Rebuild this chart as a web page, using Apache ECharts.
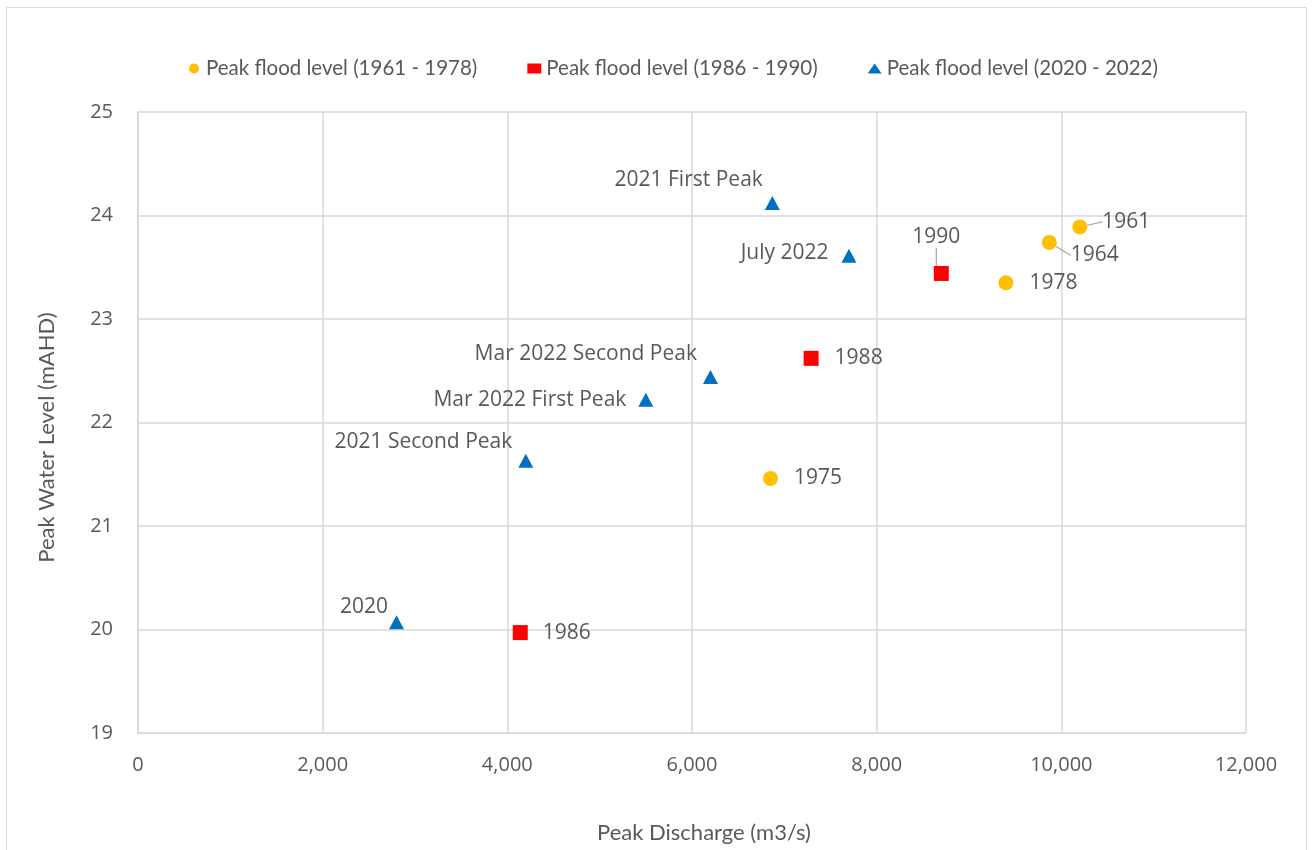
<!DOCTYPE html>
<html>
<head>
<meta charset="utf-8">
<script src="https://cdn.jsdelivr.net/npm/echarts@6/dist/echarts.min.js"></script>
<style>
  html, body { margin: 0; padding: 0; background: #fff; }
  #chart { width: 1312px; height: 850px; }
</style>
</head>
<body>
<div id="chart"></div>
<script>
// Peak flood events: discharge (m3/s) against peak water level (mAHD)
const histNames = ['1961', '1964', '1975', '1978'];
const histDischarge = [10200, 9870, 6850, 9400];
const histLevel = [23.89, 23.74, 21.46, 23.35];

const midNames = ['1986', '1988', '1990'];
const midDischarge = [4140, 7290, 8700];
const midLevel = [19.97, 22.62, 23.44];

const recentNames = ['2020', '2021 First Peak', '2021 Second Peak', 'Mar 2022 First Peak', 'Mar 2022 Second Peak', 'July 2022'];
const recentDischarge = [2800, 6870, 4200, 5500, 6200, 7700];
const recentLevel = [20.07, 24.12, 21.63, 22.22, 22.44, 23.61];

const seriesNames = ['Peak flood level (1961 - 1978)', 'Peak flood level (1986 - 1990)', 'Peak flood level (2020 - 2022)'];

// Label placement for each event: side, gap from marker, extra nudge, leader line
const labelStyle = {
  '1961': { position: 'right', distance: 5, shift: [10, -5], leader: true },
  '1964': { position: 'right', distance: 5, shift: [9, 13], leader: true },
  '1975': { position: 'right', distance: 16 },
  '1978': { position: 'right', distance: 16 },
  '1986': { position: 'right', distance: 15 },
  '1988': { position: 'right', distance: 16 },
  '1990': { position: 'top', distance: 5, shift: [-5, -13], leader: true },
  '2020': { position: 'left', distance: 1, shift: [0, -15] },
  '2021 First Peak': { position: 'left', distance: 2, shift: [0, -23] },
  '2021 Second Peak': { position: 'left', distance: 6, shift: [0, -19] },
  'Mar 2022 First Peak': { position: 'left', distance: 12 },
  'Mar 2022 Second Peak': { position: 'left', distance: 6, shift: [0, -23] },
  'July 2022': { position: 'left', distance: 13, shift: [0, -3] }
};

const labelFont = { fontFamily: 'Open Sans', fontSize: 21, color: '#595959' };

function buildData(names, xs, ys) {
  return names.map(function (n, i) {
    const s = labelStyle[n];
    return {
      name: n,
      value: [xs[i], ys[i]],
      label: Object.assign({ show: true, formatter: '{b}', position: s.position, distance: s.distance }, labelFont),
      labelLine: { show: !!s.leader, lineStyle: { color: '#a6a6a6', width: 1.2 } }
    };
  });
}

function layoutFor(names) {
  return function (params) {
    const s = labelStyle[names[params.dataIndex]];
    if (s && s.shift) return { dx: s.shift[0], dy: s.shift[1] };
    return {};
  };
}

const chart = echarts.init(document.getElementById('chart'), null, { renderer: 'canvas' });

const gridColor = '#d9d9d9';
const tickFont = { fontFamily: 'Open Sans', fontSize: 20, color: '#595959' };
const titleFont = { fontFamily: 'Lato', fontSize: 22, color: '#595959' };

chart.setOption({
  backgroundColor: '#ffffff',
  animation: false,
  graphic: [{
    type: 'rect',
    shape: { x: 6.5, y: 7.5, width: 1300, height: 900 },
    style: { fill: 'none', stroke: gridColor, lineWidth: 1 },
    silent: true,
    z: -1
  }],
  legend: {
    top: 53,
    left: 184,
    itemWidth: 14,
    itemHeight: 10,
    itemGap: 50,
    textStyle: { fontFamily: 'Lato', fontSize: 20.5, color: '#595959' },
    data: seriesNames
  },
  grid: { left: 138, right: 66, top: 112, bottom: 117, outerBoundsMode: 'none', containLabel: false },
  xAxis: {
    type: 'value',
    min: 0,
    max: 12000,
    interval: 2000,
    name: 'Peak Discharge (m3/s)',
    nameLocation: 'middle',
    nameGap: 89,
    nameTextStyle: Object.assign({ padding: [0, 0, 0, 24] }, titleFont),
    axisLine: { show: true, lineStyle: { color: gridColor, width: 1.5 } },
    axisTick: { show: false },
    axisLabel: Object.assign({ margin: 22, formatter: function (v) { return v.toLocaleString('en-US'); } }, tickFont),
    splitLine: { show: true, lineStyle: { color: gridColor, width: 1.5 } }
  },
  yAxis: {
    type: 'value',
    min: 19,
    max: 25,
    interval: 1,
    name: 'Peak Water Level (mAHD)',
    nameLocation: 'middle',
    nameGap: 80,
    nameTextStyle: Object.assign({ padding: [0, 30, 0, 0] }, titleFont),
    axisLine: { show: true, lineStyle: { color: gridColor, width: 1.5 } },
    axisTick: { show: false },
    axisLabel: Object.assign({ margin: 25 }, tickFont),
    splitLine: { show: true, lineStyle: { color: gridColor, width: 1.5 } }
  },
  series: [
    {
      name: seriesNames[0],
      type: 'scatter',
      symbol: 'circle',
      symbolSize: 15,
      itemStyle: { color: '#FFC000', opacity: 1 },
      data: buildData(histNames, histDischarge, histLevel),
      labelLayout: layoutFor(histNames)
    },
    {
      name: seriesNames[1],
      type: 'scatter',
      symbol: 'rect',
      symbolSize: 15,
      itemStyle: { color: '#FF0000', opacity: 1 },
      data: buildData(midNames, midDischarge, midLevel),
      labelLayout: layoutFor(midNames)
    },
    {
      name: seriesNames[2],
      type: 'scatter',
      symbol: 'triangle',
      symbolSize: [15, 14],
      itemStyle: { color: '#0070C0', opacity: 1 },
      data: buildData(recentNames, recentDischarge, recentLevel),
      labelLayout: layoutFor(recentNames)
    }
  ]
});
</script>
</body>
</html>
